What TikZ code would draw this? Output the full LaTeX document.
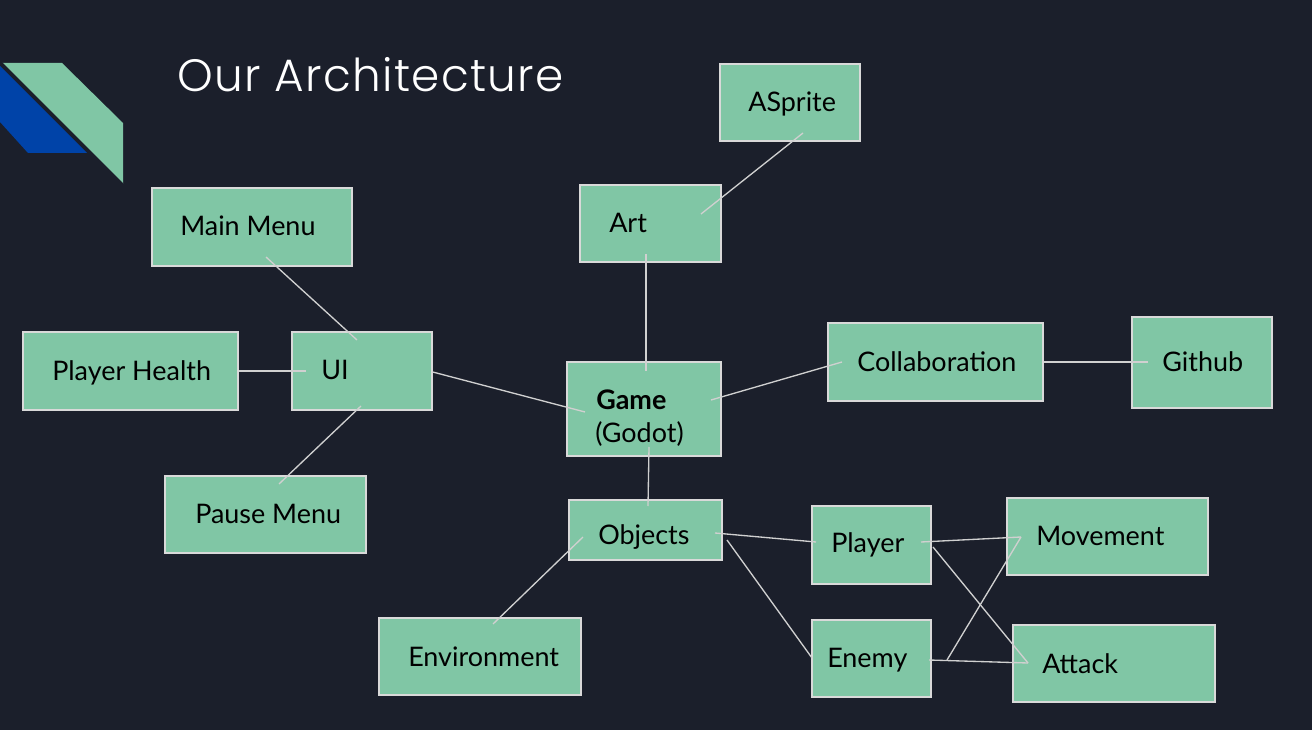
\documentclass[tikz,border=0pt]{standalone}
\usepackage{fontspec}
\setmainfont{Lato}
\newfontfamily\titlefont{Poppins}[UprightFont=* Light, LetterSpace=3]
\usetikzlibrary{fit}
\definecolor{bg}{HTML}{1B1F2B}
\definecolor{boxfill}{HTML}{80C6A5}
\definecolor{boxline}{HTML}{D9D9D9}
\definecolor{connline}{HTML}{D0D0D0}
\definecolor{deco}{HTML}{0043A8}
\tikzset{
  box/.style={draw=boxline, fill=boxfill, line width=1.1pt, inner sep=0pt},
  lbl/.style={anchor=base west, inner sep=0pt, text=black, font=\fontsize{20.2}{24}\selectfont},
  conn/.style={draw=connline, line width=1pt},
}
\newcommand\bx[5]{\node[box, fit={(#2,#3)(#4,#5)}] (#1) {};}
\begin{document}
\begin{tikzpicture}[x=0.75pt,y=-0.75pt]
\fill[bg] (0,0) rectangle (1312,730);
\useasboundingbox (0,0) rectangle (1312,730);
% decoration
\fill[deco] (0,66) -- (87,153) -- (28,153) -- (0,122) -- cycle;
\fill[boxfill] (2,63) -- (62,63) -- (123,123) -- (123,184) -- cycle;
\draw[bg, line width=0.8pt] (0,61) -- (123,184);
% title
\node[anchor=base west, inner sep=0pt, text=white, font=\titlefont\fontsize{34}{40}\selectfont] (title) at (177,92) {Our Architecture};
% boxes
\bx{asprite}{720}{64}{860}{141}
\bx{art}{580}{185}{721}{262}
\bx{mainmenu}{152}{188}{352}{266}
\bx{ui}{292}{332}{432}{410}
\bx{health}{23}{332}{238}{410}
\bx{pause}{165}{476}{366}{553}
\bx{game}{567}{362}{721}{456}
\bx{collab}{828}{323}{1043}{401}
\bx{github}{1132}{317}{1272}{408}
\bx{objects}{569}{500}{722}{560}
\bx{env}{379}{618}{581}{695}
\bx{player}{812}{506}{931}{584}
\bx{enemy}{812}{620}{931}{697}
\bx{movement}{1007}{498}{1208}{575}
\bx{attack}{1013}{625}{1215}{702}
% connectors
\draw[conn] ([shift={(13,30.5)}]asprite.center) -- ([shift={(50.5,-9.5)}]art.center);
\draw[conn] ([shift={(-4.5,30.5)}]art.center) -- ([shift={(2,-38)}]game.center);
\draw[conn] ([shift={(14,30)}]mainmenu.center) -- ([shift={(-5,-31)}]ui.center);
\draw[conn] (health.east) -- ([shift={(-56,0)}]ui.center);
\draw[conn] ([shift={(-1,35)}]ui.center) -- ([shift={(13.5,-30.5)}]pause.center);
\draw[conn] ([shift={(0,1)}]ui.east) -- ([shift={(-59,3)}]game.center);
\draw[conn] ([shift={(67,-9)}]game.center) -- ([shift={(-93.5,0)}]collab.center);
\draw[conn] (collab.east) -- ([shift={(-54,-0.5)}]github.center);
\draw[conn] ([shift={(5,38)}]game.center) -- ([shift={(2.5,-24)}]objects.center);
\draw[conn] ([shift={(-62.5,7)}]objects.center) -- ([shift={(13,-32.5)}]env.center);
\draw[conn] ([shift={(69.5,3)}]objects.center) -- ([shift={(-55.5,-3)}]player.center);
\draw[conn] ([shift={(81.5,10)}]objects.center) -- ([shift={(-59.5,-0.5)}]enemy.center);
\draw[conn] ([shift={(49.5,-3)}]player.center) -- ([shift={(-86.5,0.5)}]movement.center);
\draw[conn] ([shift={(61.5,2)}]player.center) -- ([shift={(-86,-0.5)}]attack.center);
\draw[conn] ([shift={(75.5,1.5)}]enemy.center) -- ([shift={(-86.5,0.5)}]movement.center);
\draw[conn] ([shift={(57.5,1.5)}]enemy.center) -- ([shift={(-86,-0.5)}]attack.center);
% labels
\node[lbl] (t-asprite) at (748,112) {ASprite};
\node[lbl] (t-art) at (609,233) {Art};
\node[lbl] (t-mainmenu) at (180,236) {Main Menu};
\node[lbl] (t-ui) at (321,380) {UI};
\node[lbl] (t-health) at (52,381) {Player Health};
\node[lbl] (t-pause) at (195,523) {Pause Menu};
\node[lbl, font=\bfseries\fontsize{20.2}{24}\selectfont] (t-game) at (596,410) {Game};
\node[lbl] (t-godot) at (595,442) {(Godot)};
\node[lbl] (t-objects) at (598,544) {Objects};
\node[lbl] (t-collab) at (857,372) {Collaboration};
\node[lbl] (t-github) at (1162,372) {Github};
\node[lbl] (t-player) at (831,552) {Player};
\node[lbl] (t-enemy) at (827,667) {Enemy};
\node[lbl] (t-movement) at (1036,545) {Movement};
\node[lbl] (t-attack) at (1042,673) {Attack};
\node[lbl] (t-env) at (408,666) {Environment};
\end{tikzpicture}
\end{document}
